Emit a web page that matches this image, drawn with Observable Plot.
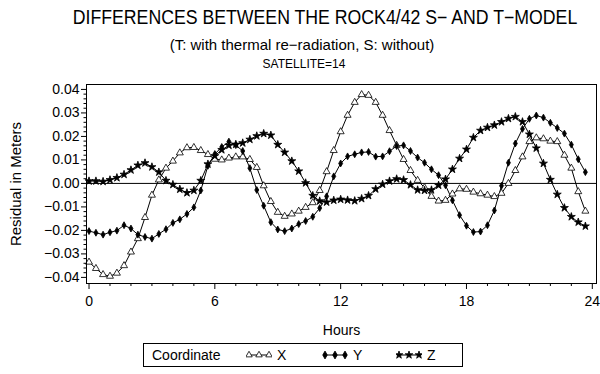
<!DOCTYPE html>
<html>
<head>
<meta charset="utf-8">
<script src="https://cdn.jsdelivr.net/npm/d3@7"></script>
<script src="https://cdn.jsdelivr.net/npm/@observablehq/plot@0.6"></script>
<style>
  html, body { margin: 0; padding: 0; background: #fff; }
  #wrap { position: relative; width: 600px; height: 374px; overflow: hidden; font-family: "Liberation Sans", Arial, Helvetica, sans-serif; color: #000; }
  .ttl { position: absolute; white-space: nowrap; line-height: 1; }
  #chart { position: absolute; left: 0; top: 76px; }
  #legend { position: absolute; left: 143px; top: 343px; width: 318px; height: 22px; border: 1px solid #000; font-size: 14px; }
  #legend span, #legend svg { position: absolute; }
</style>
</head>
<body>
<div id="wrap">
  <div class="ttl" id="t1" style="left:325px; top:8px; font-size:19.5px; transform: translateX(-50%) scaleX(0.907);">DIFFERENCES BETWEEN THE ROCK4/42 S− AND T−MODEL</div>
  <div class="ttl" id="t2" style="left:302px; top:37px; font-size:15px; transform: translateX(-50%);">(T: with thermal re−radiation, S: without)</div>
  <div class="ttl" id="t3" style="left:304px; top:58px; font-size:12px; transform: translateX(-50%);">SATELLITE=14</div>
  <div id="chart"></div>
  <div id="legend"></div>
</div>
<script>
// ---- data ----
const hours = [0,0.33,0.67,1,1.33,1.67,2,2.33,2.67,3,3.33,3.67,4,4.33,4.67,5,5.33,5.67,6,6.33,6.67,7,7.33,7.67,8,8.33,8.67,9,9.33,9.67,10,10.33,10.67,11,11.33,11.67,12,12.33,12.67,13,13.33,13.67,14,14.33,14.67,15,15.33,15.67,16,16.33,16.67,17,17.33,17.67,18,18.33,18.67,19,19.33,19.67,20,20.33,20.67,21,21.33,21.67,22,22.33,22.67,23,23.33,23.67];

const residX = [-0.0335,-0.0362,-0.0388,-0.0395,-0.0382,-0.0350,-0.0292,-0.0235,-0.0145,-0.0050,0.0015,0.0065,0.0095,0.0130,0.0152,0.0153,0.0140,0.0123,0.0103,0.0100,0.0108,0.0113,0.0113,0.0102,0.0068,-0.0010,-0.0077,-0.0123,-0.0140,-0.0130,-0.0118,-0.0102,-0.0082,-0.0030,0.0050,0.0140,0.0220,0.0290,0.0345,0.0378,0.0375,0.0345,0.0290,0.0225,0.0162,0.0102,0.0055,0.0013,-0.0018,-0.0055,-0.0075,-0.0072,-0.0045,-0.0023,-0.0025,-0.0037,-0.0044,-0.0050,-0.0056,-0.0042,0.0000,0.0055,0.0113,0.0178,0.0194,0.0190,0.0180,0.0178,0.0120,0.0065,-0.0035,-0.0118];

const residY = [-0.0203,-0.0210,-0.0218,-0.0208,-0.0201,-0.0178,-0.0192,-0.0218,-0.0228,-0.0235,-0.0215,-0.0195,-0.0168,-0.0153,-0.0130,-0.0102,-0.0030,0.0075,0.0125,0.0155,0.0178,0.0163,0.0138,0.0065,-0.0028,-0.0095,-0.0165,-0.0196,-0.0203,-0.0192,-0.0173,-0.0160,-0.0142,-0.0105,-0.0055,0.0030,0.0085,0.0115,0.0124,0.0132,0.0134,0.0114,0.0115,0.0137,0.0159,0.0162,0.0138,0.0110,0.0088,0.0060,0.0035,-0.0008,-0.0072,-0.0135,-0.0180,-0.0207,-0.0205,-0.0178,-0.0115,-0.0010,0.0088,0.0170,0.0232,0.0275,0.0289,0.0280,0.0258,0.0236,0.0212,0.0165,0.0103,0.0048];

const residZ = [0.0010,0.0010,0.0008,0.0015,0.0024,0.0038,0.0057,0.0077,0.0087,0.0070,0.0048,0.0012,-0.0005,-0.0025,-0.0040,-0.0030,0.0012,0.0082,0.0117,0.0143,0.0162,0.0166,0.0172,0.0187,0.0202,0.0212,0.0205,0.0165,0.0132,0.0095,0.0052,0.0002,-0.0052,-0.0075,-0.0080,-0.0072,-0.0068,-0.0071,-0.0074,-0.0065,-0.0052,-0.0024,-0.0004,0.0010,0.0019,0.0015,-0.0006,-0.0028,-0.0030,-0.0028,-0.0008,0.0018,0.0060,0.0106,0.0145,0.0195,0.0225,0.0238,0.0248,0.0262,0.0276,0.0284,0.0262,0.0209,0.0150,0.0085,0.0016,-0.0047,-0.0104,-0.0142,-0.0165,-0.0182];

const coordinates = ["X", "Y", "Z"];
const xMajorTicks = [0, 6, 12, 18, 24];
const xMinorTicks = [1,2,3,4,5,7,8,9,10,11,13,14,15,16,17,19,20,21,22,23];
const yMajorTicks = [-0.04,-0.03,-0.02,-0.01,0,0.01,0.02,0.03,0.04];
const yMinorTicks = [-0.038,-0.036,-0.034,-0.032,-0.028,-0.026,-0.024,-0.022,-0.018,-0.016,-0.014,-0.012,-0.008,-0.006,-0.004,-0.002,0.002,0.004,0.006,0.008,0.012,0.014,0.016,0.018,0.022,0.024,0.026,0.028,0.032,0.034,0.036,0.038];

// ---- build table ----
const series = {X: residX, Y: residY, Z: residZ};
const rows = coordinates.flatMap(c => hours.map((h, i) => ({coord: c, hour: h, resid: series[c][i]})));
const symbolStyle = {
  X: {symbol: "triangle", fill: "white", r: 2.6},
  Y: {symbol: "diamond", fill: "black", r: 2.1},
  Z: {symbol: "star", fill: "black", r: 2.5}
};

const fmt = d3.format(".2f");
const chart = Plot.plot({
  width: 600,
  height: 266,
  marginLeft: 86,
  marginRight: 4,
  marginTop: 8,
  marginBottom: 59,
  style: {fontFamily: '"Liberation Sans", Arial, Helvetica, sans-serif', fontSize: "14px", color: "black", background: "white", overflow: "visible"},
  x: {domain: [-0.12, 24.2]},
  y: {domain: [-0.0426, 0.0421]},
  marks: [
    Plot.ruleY([0], {stroke: "black", strokeWidth: 1}),
    ...coordinates.map(c => Plot.line(rows.filter(d => d.coord === c), {x: "hour", y: "resid", stroke: "black", strokeWidth: 1})),
    ...coordinates.map(c => Plot.dot(rows.filter(d => d.coord === c), {x: "hour", y: "resid", stroke: "black", strokeWidth: 0.8, ...symbolStyle[c]})),
    Plot.frame({stroke: "black", strokeWidth: 1}),
    Plot.axisX({ticks: xMajorTicks, tickSize: 6, tickPadding: 7, tickFormat: d => String(d), label: null, fontSize: 14}),
    Plot.axisX({ticks: xMinorTicks, tickSize: 3, tickFormat: () => "", label: null}),
    Plot.axisY({ticks: yMajorTicks, tickSize: 5, tickPadding: 2, tickFormat: fmt, label: null, fontSize: 14}),
    Plot.axisY({ticks: yMinorTicks, tickSize: 2.5, tickFormat: () => "", label: null}),
    Plot.text(["Hours"], {frameAnchor: "bottom", dy: 47, lineAnchor: "middle", fontSize: 14}),
    Plot.text(["Residual in Meters"], {frameAnchor: "left", dx: -70, rotate: -90, textAnchor: "middle", lineAnchor: "middle", fontSize: 15})
  ]
});
document.getElementById("chart").appendChild(chart);

// ---- legend ----
const legend = document.getElementById("legend");
const lab = document.createElement("span");
lab.textContent = "Coordinate";
lab.style.left = "8px"; lab.style.top = "3px";
legend.appendChild(lab);
const legendPos = {X: 102, Y: 178, Z: 252};
const ns = "http://www.w3.org/2000/svg";
for (const c of coordinates) {
  const svg = document.createElementNS(ns, "svg");
  svg.setAttribute("width", 26); svg.setAttribute("height", 12);
  svg.style.left = legendPos[c] + "px"; svg.style.top = "5px";
  const ln = document.createElementNS(ns, "line");
  ln.setAttribute("x1", 1); ln.setAttribute("x2", 25); ln.setAttribute("y1", 6); ln.setAttribute("y2", 6);
  ln.setAttribute("stroke", "black");
  svg.appendChild(ln);
  const sym = d3.symbol(c === "X" ? d3.symbolTriangle : c === "Y" ? d3.symbolDiamond : d3.symbolStar, 18)();
  for (const px of [3, 13, 23]) {
    const p = document.createElementNS(ns, "path");
    p.setAttribute("d", sym);
    p.setAttribute("transform", `translate(${px},6)`);
    p.setAttribute("fill", symbolStyle[c].fill);
    p.setAttribute("stroke", "black");
    p.setAttribute("stroke-width", 0.8);
    svg.appendChild(p);
  }
  legend.appendChild(svg);
  const t = document.createElement("span");
  t.textContent = c;
  t.style.left = (legendPos[c] + 31) + "px"; t.style.top = "3px";
  legend.appendChild(t);
}
</script>
</body>
</html>
